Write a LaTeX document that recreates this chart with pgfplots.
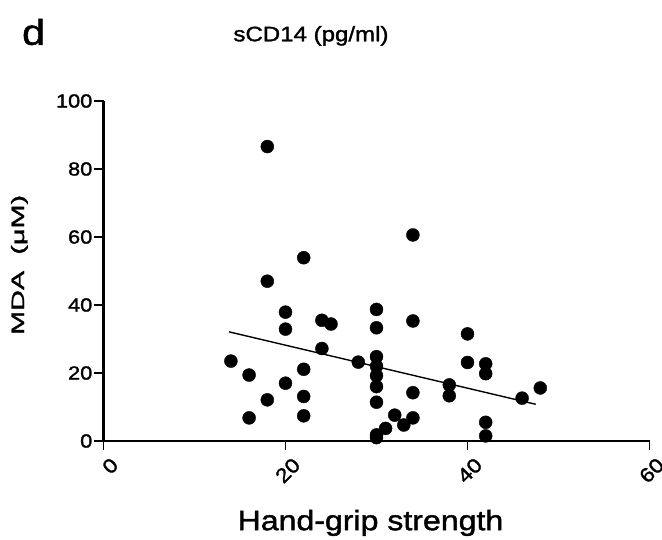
\documentclass[border=0pt]{standalone}
\usepackage{pgfplots}
\pgfplotsset{compat=1.18}
\usepackage{fontspec}
\setmainfont{Liberation Sans}[FakeStretch=1.15, FakeBold=1.5]
\begin{document}
\begin{tikzpicture}
\begin{axis}[
  at={(103.5bp,99bp)}, anchor=south west,
  scale only axis, width=546bp, height=340bp,
  xmin=0, xmax=60, ymin=0, ymax=100,
  axis lines=left,
  axis line style={-, line width=2bp, black},
  xtick={0,20,40,60}, ytick={0,20,40,60,80,100},
  tick align=outside, major tick length=9bp,
  tick style={line width=1.6bp, black},
  /pgf/number format/assume math mode=true,
  ticklabel style={font=\fontsize{19}{21}\selectfont},
  xticklabel style={font=\fontsize{20}{22}\selectfont, rotate=45, anchor=east, inner sep=1pt, xshift=1bp, yshift=-16bp},
  yticklabel style={inner sep=2pt},
  xlabel={Hand-grip strength},
  xlabel style={font=\fontsize{28}{30}\selectfont, at={(axis description cs:0.489,-0.241)}, anchor=center},
  ylabel={\scalebox{1.4}[1]{MDA\ \ (μM)}},
  ylabel style={font=\fontsize{18}{20}\selectfont, at={(axis description cs:-0.154,0.518)}, anchor=center, rotate=0},
  title={sCD14 (pg/ml)},
  title style={font=\fontsize{21}{24}\selectfont, at={(axis description cs:0.38,1.174)}, anchor=center},
  clip=false,
]
\addplot[only marks, mark=*, mark size=6.5bp, black] coordinates {
(14,23.5) (16,19.4) (16,6.8) (18,86.6) (18,47.0) (18,12.1)
(20,37.9) (20,32.9) (20,17.0) (22,53.9) (22,21.1) (22,13.1) (22,7.4)
(24,35.5) (25,34.4) (24,27.2) (28,23.2)
(30,38.7) (30,33.3) (30,24.8) (30,22.0) (30,19.2) (30,16.0) (30,11.4)
(30,1.0) (30,1.8) (31,3.7) (32,7.6) (33,4.7) (34,6.8)
(34,60.6) (34,35.3) (34,14.2) (38,16.5) (38,13.3)
(40,31.5) (40,23.1) (42,22.7) (42,19.8) (42,5.5) (42,1.5)
(46,12.6) (48,15.6)
};
\addplot[black, line width=1.4bp] coordinates {(13.8,32.1) (47.5,10.8)};
\node[font=\fontsize{36}{38}\selectfont, anchor=center] at (axis description cs:-0.128,1.203) {d};
\end{axis}
\pgfresetboundingbox
\path[use as bounding box] (0,0) rectangle (662bp,540bp);
\end{tikzpicture}
\end{document}
